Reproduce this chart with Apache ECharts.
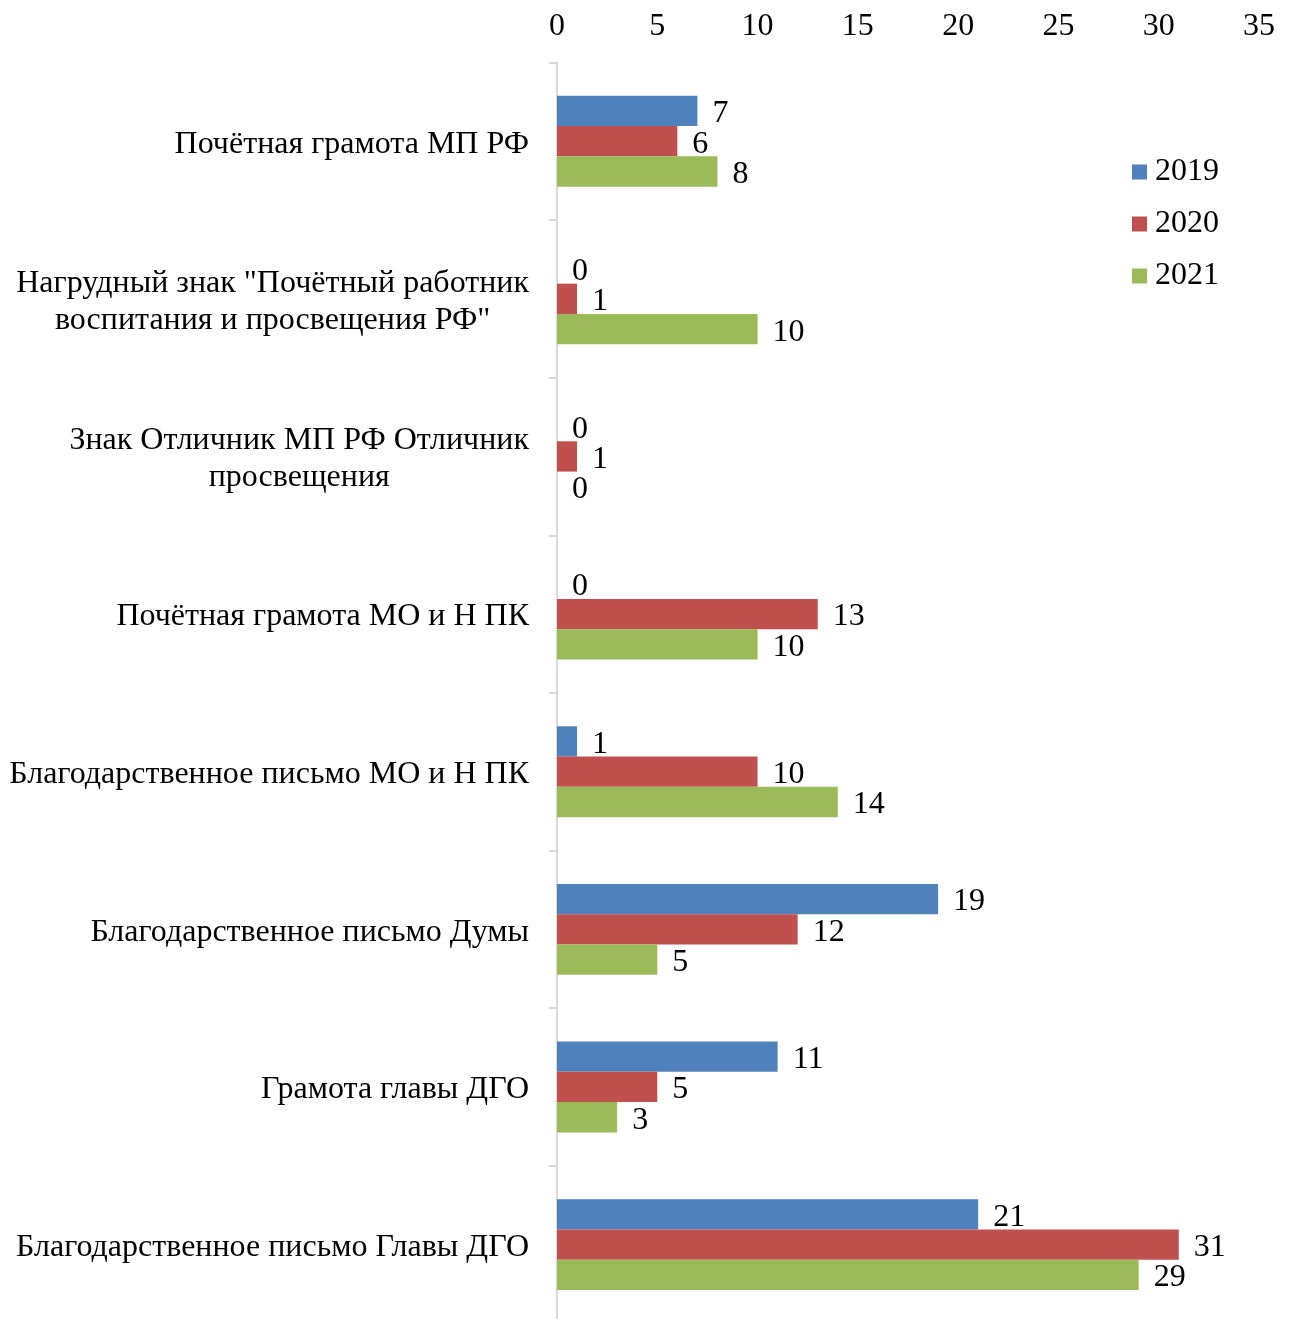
<!DOCTYPE html>
<html><head><meta charset="utf-8">
<script src="https://cdn.jsdelivr.net/npm/echarts@6/dist/echarts.min.js"></script>
<style>html,body{margin:0;padding:0;background:#fff;overflow:hidden}#c{width:1289px;height:1326px}</style>
</head><body><div id="c"></div>
<script>
const categories = [
  'Почётная грамота МП РФ',
  'Нагрудный знак "Почётный работник\nвоспитания и просвещения РФ"',
  'Знак Отличник МП РФ Отличник\nпросвещения',
  'Почётная грамота МО и Н ПК',
  'Благодарственное письмо МО и Н ПК',
  'Благодарственное письмо Думы',
  'Грамота главы ДГО',
  'Благодарственное письмо Главы ДГО'
];
const seriesNames = ['2019', '2020', '2021'];
const values2019 = [7, 0, 0, 0, 1, 19, 11, 21];
const values2020 = [6, 1, 1, 13, 10, 12, 5, 31];
const values2021 = [8, 10, 0, 10, 14, 5, 3, 29];
const xTicks = [0, 5, 10, 15, 20, 25, 30, 35];

const colors = ['#4F81BD', '#C0504D', '#9BBB59'];
const font = '"Liberation Serif", "Times New Roman", serif';
const chart = echarts.init(document.getElementById('c'));
const allValues = [values2019, values2020, values2021];
chart.setOption({
  animation: false,
  textStyle: { fontFamily: font },
  legend: {
    orient: 'vertical', left: 1127, top: 151,
    itemWidth: 15, itemHeight: 15, itemGap: 20,
    icon: 'rect',
    textStyle: { fontFamily: font, fontSize: 32, color: '#000', padding: [4, 0, 0, 3] },
    data: seriesNames
  },
  grid: { left: 557, right: 30, top: 62.4, height: 1261, containLabel: false },
  xAxis: {
    type: 'value', position: 'top', min: xTicks[0], max: xTicks[xTicks.length - 1], interval: 5,
    axisLine: { show: false }, axisTick: { show: false }, splitLine: { show: false },
    axisLabel: { fontFamily: font, fontSize: 32, color: '#000', margin: 20, padding: [4, 0, 0, 0] }
  },
  yAxis: {
    type: 'category', inverse: true, data: categories,
    axisLine: { show: true, lineStyle: { color: '#d9d9d9', width: 2 } },
    axisTick: { show: true, length: 8, lineStyle: { color: '#d9d9d9', width: 2 } },
    axisLabel: {
      margin: 28, align: 'right', padding: [6, 0, 0, 0],
      formatter: v => v.split('\n').map(s => '{c|' + s + '}').join('\n'),
      rich: { c: { fontFamily: font, fontSize: 32, color: '#000', align: 'center', lineHeight: 37 } }
    }
  },
  series: seriesNames.map((n, i) => ({
    name: n, type: 'bar', data: allValues[i],
    barWidth: 30.3, barGap: '0%',
    itemStyle: { color: colors[i] },
    label: { show: true, position: 'right', distance: 15, offset: [0, 3], fontFamily: font, fontSize: 32, color: '#000' }
  }))
});
</script></body></html>
